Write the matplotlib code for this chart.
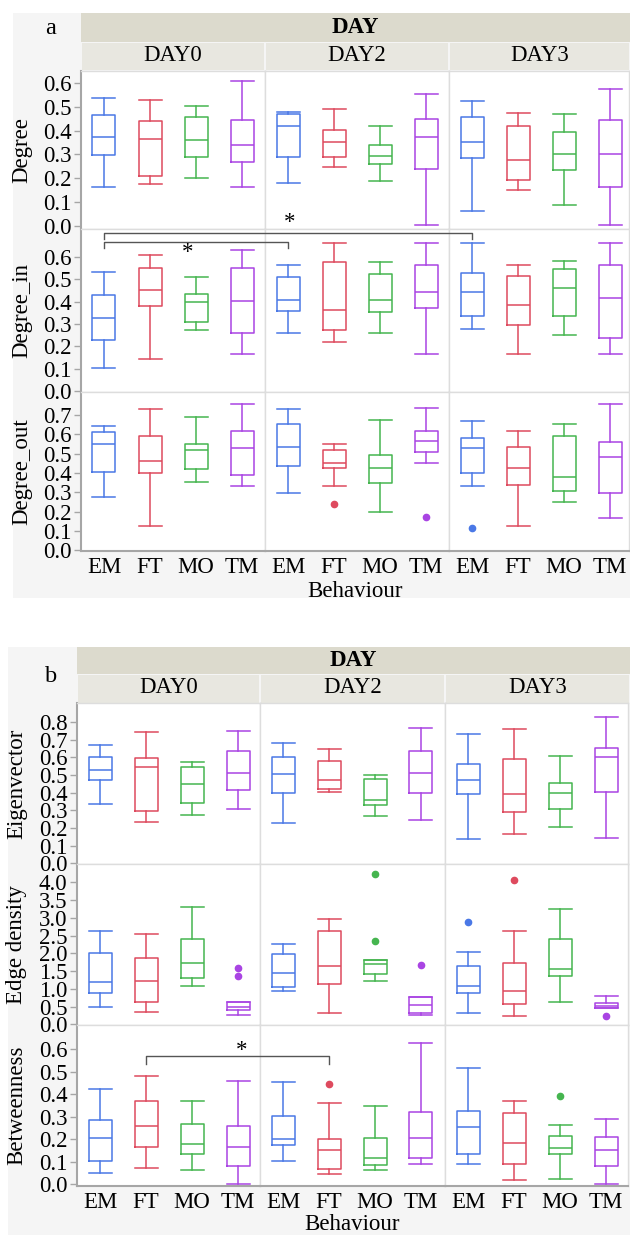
import numpy as np
import matplotlib.pyplot as plt
from matplotlib.patches import Rectangle
from matplotlib.lines import Line2D

plt.rcParams["font.family"] = ["Liberation Serif", "DejaVu Serif"]

W, H = 630, 1235

behaviours = ["EM", "FT", "MO", "TM"]
days = ["DAY0", "DAY2", "DAY3"]
colors = ["#4a78e6", "#de4a5e", "#45b54f", "#a944e3"]

# (whisker low, q1, median, q3, whisker high)
# order: DAY0 EM FT MO TM, DAY2 EM FT MO TM, DAY3 EM FT MO TM
degree = [
    (0.164, 0.297, 0.371, 0.464, 0.536), (0.175, 0.210, 0.364, 0.439, 0.530),
    (0.200, 0.290, 0.360, 0.455, 0.504), (0.164, 0.269, 0.340, 0.445, 0.606),
    (0.180, 0.291, 0.420, 0.469, 0.480), (0.249, 0.291, 0.354, 0.404, 0.491),
    (0.189, 0.260, 0.295, 0.339, 0.420), (0.003, 0.239, 0.371, 0.450, 0.554),
    (0.064, 0.285, 0.354, 0.455, 0.525), (0.150, 0.194, 0.278, 0.418, 0.474),
    (0.089, 0.234, 0.303, 0.394, 0.470), (0.003, 0.165, 0.303, 0.445, 0.575),
]
degree_in = [
    (0.101, 0.228, 0.326, 0.431, 0.534), (0.143, 0.379, 0.454, 0.549, 0.609),
    (0.273, 0.310, 0.400, 0.433, 0.512), (0.166, 0.261, 0.402, 0.549, 0.631),
    (0.257, 0.357, 0.406, 0.512, 0.566), (0.219, 0.273, 0.364, 0.578, 0.663),
    (0.261, 0.354, 0.408, 0.524, 0.578), (0.166, 0.370, 0.443, 0.566, 0.663),
    (0.279, 0.336, 0.443, 0.530, 0.663), (0.166, 0.294, 0.384, 0.516, 0.566),
    (0.251, 0.336, 0.460, 0.545, 0.582), (0.166, 0.236, 0.416, 0.566, 0.663),
]
degree_out = [
    (0.276, 0.405, 0.547, 0.609, 0.640), (0.124, 0.400, 0.462, 0.590, 0.731),
    (0.352, 0.418, 0.521, 0.547, 0.690), (0.331, 0.388, 0.528, 0.619, 0.757),
    (0.295, 0.436, 0.535, 0.652, 0.731), (0.331, 0.424, 0.449, 0.521, 0.547),
    (0.197, 0.350, 0.424, 0.491, 0.676), (0.449, 0.506, 0.564, 0.619, 0.736),
    (0.331, 0.400, 0.528, 0.578, 0.669), (0.124, 0.338, 0.424, 0.534, 0.619),
    (0.252, 0.307, 0.381, 0.590, 0.652), (0.166, 0.295, 0.480, 0.559, 0.757),
]
eigenvector = [
    (0.336, 0.471, 0.526, 0.600, 0.668), (0.234, 0.294, 0.547, 0.594, 0.743),
    (0.275, 0.341, 0.451, 0.547, 0.573), (0.309, 0.417, 0.513, 0.634, 0.751),
    (0.228, 0.396, 0.505, 0.600, 0.681), (0.402, 0.422, 0.473, 0.581, 0.647),
    (0.268, 0.330, 0.360, 0.479, 0.498), (0.245, 0.396, 0.513, 0.634, 0.768),
    (0.138, 0.390, 0.471, 0.564, 0.734), (0.168, 0.289, 0.390, 0.589, 0.762),
    (0.207, 0.309, 0.396, 0.456, 0.607), (0.145, 0.402, 0.603, 0.654, 0.830),
]
edge_density = [
    (0.49, 0.87, 1.19, 2.00, 2.62), (0.36, 0.63, 1.22, 1.88, 2.54),
    (1.07, 1.30, 1.74, 2.41, 3.32), (0.26, 0.39, 0.49, 0.63, 0.63),
    (0.93, 1.04, 1.44, 1.97, 2.27), (0.33, 1.13, 1.64, 2.62, 2.98),
    (1.23, 1.43, 1.71, 1.81, 1.81), (0.26, 0.33, 0.54, 0.78, 0.78),
    (0.33, 0.87, 1.07, 1.64, 2.04), (0.23, 0.57, 0.93, 1.74, 2.62),
    (0.63, 1.37, 1.57, 2.41, 3.24), (0.45, 0.45, 0.52, 0.60, 0.80),
]
betweenness = [
    (0.048, 0.101, 0.204, 0.284, 0.423), (0.071, 0.166, 0.257, 0.370, 0.481),
    (0.064, 0.132, 0.177, 0.267, 0.370), (0.000, 0.080, 0.166, 0.257, 0.459),
    (0.102, 0.172, 0.199, 0.303, 0.454), (0.043, 0.065, 0.150, 0.199, 0.359),
    (0.061, 0.086, 0.114, 0.203, 0.347), (0.091, 0.114, 0.203, 0.322, 0.629),
    (0.091, 0.134, 0.252, 0.327, 0.518), (0.016, 0.091, 0.181, 0.316, 0.370),
    (0.024, 0.134, 0.162, 0.214, 0.261), (0.001, 0.081, 0.150, 0.209, 0.288),
]

# outliers, same order as above
no_fliers = [[] for _ in range(12)]
degree_out_fliers = [[], [], [], [], [], [0.242], [], [0.171], [0.115], [], [], []]
edge_fliers = [[], [], [], [1.58, 1.37], [], [], [2.35, 4.24], [1.67], [2.88], [4.08], [], [0.24]]
between_fliers = [[], [], [], [], [], [0.445], [], [], [], [], [0.393], []]

ticks_07 = np.arange(0, 0.71, 0.1)
ticks_06 = np.arange(0, 0.61, 0.1)
ticks_08 = np.arange(0, 0.81, 0.1)
ticks_40 = np.arange(0, 4.01, 0.5)

# name, stats, fliers, yticks, ylim, tick format
panel_a_rows = [
    ("Degree", degree, no_fliers, ticks_06, (-0.013, 0.650), "%.1f"),
    ("Degree_in", degree_in, no_fliers, ticks_06, (-0.005, 0.725), "%.1f"),
    ("Degree_out", degree_out, degree_out_fliers, ticks_07, (-0.003, 0.818), "%.1f"),
]
panel_b_rows = [
    ("Eigenvector", eigenvector, no_fliers, ticks_08, (-0.004, 0.907), "%.1f"),
    ("Edge density", edge_density, edge_fliers, ticks_40, (-0.02, 4.52), "%.1f"),
    ("Betweenness", betweenness, between_fliers, ticks_06, (-0.009, 0.708), "%.1f"),
]

geo_a = dict(letter="a", bg=(13, 13, 598), head=(13, 42, 70), cols=[81, 265, 449, 629],
             rows=[71, 229, 392, 551], ylab_x=22, letter_xy=(51, 29),
             xlab_y=591, ticklab_pad=4)
geo_b = dict(letter="b", bg=(8, 647, 1235), head=(647, 674, 703), cols=[77, 260, 445, 628],
             rows=[703, 864, 1025, 1186], ylab_x=17, letter_xy=(51, 677),
             xlab_y=1225, ticklab_pad=4)

FS = 16.5
BOX_STEP = 46.0  # px between box centres


def frac_rect(x, y, w, h):
    return [x / W, 1 - (y + h) / H, w / W, h / H]


def fig_rect(fig, x, y, w, h, color, z=-5):
    r = Rectangle((x / W, 1 - (y + h) / H), w / W, h / H, transform=fig.transFigure,
                  facecolor=color, edgecolor="none", zorder=z)
    fig.add_artist(r)


def draw_panel(fig, geo, rows):
    bx0, by0, by1 = geo["bg"]
    fig_rect(fig, bx0, by0, W - bx0, by1 - by0, "#f5f5f5", z=-10)
    cols = geo["cols"]
    h0, h1, h2 = geo["head"]
    # strips
    fig_rect(fig, cols[0], h0, W - cols[0], h1 - h0, "#dcdacd")
    fig.text((cols[0] + W) / 2 / W, 1 - (h0 + h1) / 2 / H, "DAY", ha="center", va="center",
             fontsize=FS, fontweight="bold")
    for i, d in enumerate(days):
        right = W if i == 2 else cols[i + 1]
        fig_rect(fig, cols[i] + 1, h1 + 1, right - cols[i] - 2, h2 - h1 - 1, "#e8e7e0")
        fig.text((cols[i] + right) / 2 / W, 1 - (h1 + h2) / 2 / H + 0.0005, d,
                 ha="center", va="center", fontsize=FS)
    lx, ly = geo["letter_xy"]
    fig.text(lx / W, 1 - ly / H, geo["letter"], ha="center", va="center", fontsize=FS + 1)

    rp = geo["rows"]
    axes = []
    for r, (name, stats, fliers, yt, ylim, fmt) in enumerate(rows):
        row_axes = []
        for c in range(3):
            width = cols[c + 1] - cols[c]
            ax = fig.add_axes(frac_rect(cols[c], rp[r], width, rp[r + 1] - rp[r]))
            ax.set_facecolor("white")
            for j in range(4):
                lo, q1, med, q3, hi = stats[c * 4 + j]
                st = dict(whislo=lo, q1=q1, med=med, q3=q3, whishi=hi,
                          fliers=fliers[c * 4 + j])
                col = colors[j]
                lp = dict(color=col, lw=1.1)
                ax.bxp([st], positions=[j], widths=0.5, capwidths=0.5, showfliers=True,
                       boxprops=lp, medianprops=lp, whiskerprops=lp, capprops=lp,
                       flierprops=dict(marker="o", markerfacecolor=col, markeredgecolor=col,
                                       markersize=4.5))
            ax.set_xlim(-0.5, -0.5 + width / BOX_STEP)
            ax.set_ylim(*ylim)
            for s in ax.spines.values():
                s.set_color("#dddddd")
                s.set_linewidth(1.0)
            ax.set_yticks(yt)
            if c == 0:
                ax.set_yticklabels([fmt % v for v in yt], fontsize=FS)
                ax.tick_params(axis="y", length=5, width=1, color="#a6a6a6", pad=2)
                ax.spines["left"].set_color("#a6a6a6")
                ax.spines["left"].set_linewidth(1.5)
            else:
                ax.tick_params(axis="y", length=0, labelleft=False)
            if r == 2:
                ax.set_xticks(range(4))
                ax.set_xticklabels(behaviours, fontsize=FS)
                ax.tick_params(axis="x", length=0, pad=geo["ticklab_pad"])
                ax.spines["bottom"].set_color("#a6a6a6")
                ax.spines["bottom"].set_linewidth(1.5)
            else:
                ax.set_xticks([])
            row_axes.append(ax)
        axes.append(row_axes)
        fig.text(geo["ylab_x"] / W, 1 - (rp[r] + rp[r + 1]) / 2 / H, name, rotation=90,
                 ha="center", va="center", fontsize=FS)
    fig.text((cols[0] + cols[3]) / 2 / W, 1 - geo["xlab_y"] / H, "Behaviour",
             ha="center", va="center", fontsize=FS)
    return axes


def bracket(fig, ax_a, pos_a, ax_b, pos_b, ax_y, y_top, y_drop, star_frac, star_y):
    inv = fig.transFigure.inverted()
    xa = ax_a.transData.transform((pos_a, 0))[0]
    xb = ax_b.transData.transform((pos_b, 0))[0]
    yt = ax_y.transData.transform((0, y_top))[1]
    yd = ax_y.transData.transform((0, y_drop))[1]
    ys = ax_y.transData.transform((0, star_y))[1]
    pts = inv.transform([(xa, yd), (xa, yt), (xb, yt), (xb, yd)])
    fig.add_artist(Line2D(pts[:, 0], pts[:, 1], transform=fig.transFigure,
                          color="#555555", lw=1.0, zorder=20))
    sx, sy = inv.transform((xa + star_frac * (xb - xa), ys))
    fig.text(sx, sy, "*", ha="center", va="center", fontsize=FS, zorder=21)


fig = plt.figure(figsize=(W / 100, H / 100), dpi=100)

axes_a = draw_panel(fig, geo_a, panel_a_rows)
axes_b = draw_panel(fig, geo_b, panel_b_rows)

# significance brackets
bracket(fig, axes_a[1][0], 0, axes_a[1][2], 0, axes_a[1][0], 0.709, 0.682, 0.505, 0.755)
bracket(fig, axes_a[1][0], 0, axes_a[1][1], 0, axes_a[1][0], 0.666, 0.642, 0.457, 0.620)
bracket(fig, axes_b[2][0], 1, axes_b[2][1], 1, axes_b[2][0], 0.570, 0.533, 0.525, 0.595)

fig.savefig("out.png", dpi=100, facecolor="white")
